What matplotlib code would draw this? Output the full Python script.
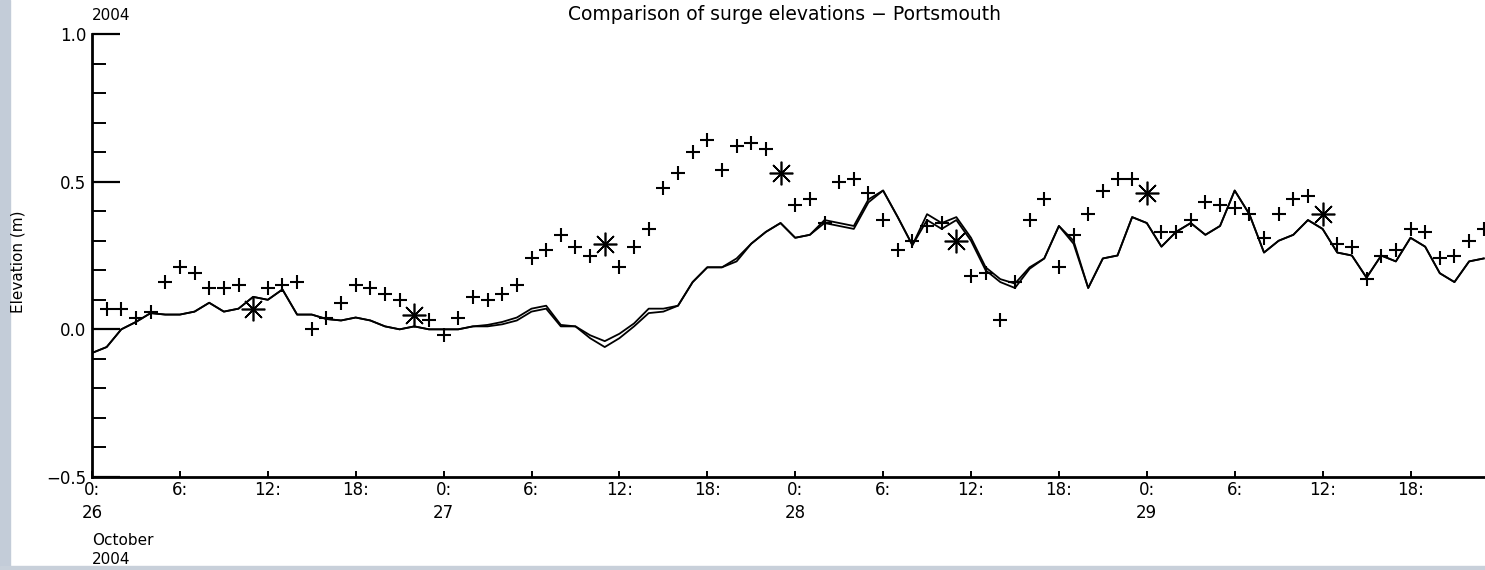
import matplotlib
matplotlib.use("Agg")
import matplotlib.pyplot as plt
import matplotlib.transforms as mtransforms
from matplotlib.patches import Rectangle
import numpy as np

# hourly surge elevation (m), hour 0 = 00:00 26 October 2004
obs = [np.nan, 0.07, 0.07, 0.04, 0.06, 0.16, 0.21, 0.19, 0.14, 0.14,
       0.15, 0.07, 0.14, 0.15, 0.16, 0.00, 0.04, 0.09, 0.15, 0.14,
       0.12, 0.10, 0.05, 0.03, -0.02, 0.04, 0.11, 0.10, 0.12, 0.15,
       0.24, 0.27, 0.32, 0.28, 0.25, 0.29, 0.21, 0.28, 0.34, 0.48,
       0.53, 0.60, 0.64, 0.54, 0.62, 0.63, 0.61, 0.53, 0.42, 0.44,
       0.36, 0.50, 0.51, 0.46, 0.37, 0.27, 0.30, 0.35, 0.36, 0.30,
       0.18, 0.19, 0.03, 0.16, 0.37, 0.44, 0.21, 0.32, 0.39, 0.47,
       0.51, 0.51, 0.46, 0.33, 0.33, 0.37, 0.43, 0.42, 0.41, 0.39,
       0.31, 0.39, 0.44, 0.45, 0.39, 0.29, 0.28, 0.17, 0.25, 0.27,
       0.34, 0.33, 0.24, 0.25, 0.30, 0.34]

# hours flagged as high water (drawn with asterisks)
hw_hours = [11, 22, 35, 47, 59, 72, 84]

model_a = [-0.08, -0.06, 0.00, 0.025, 0.055, 0.05, 0.05, 0.06, 0.09, 0.06,
           0.07, 0.11, 0.10, 0.135, 0.05, 0.05, 0.035, 0.03, 0.04, 0.03,
           0.01, 0.00, 0.01, 0.00, 0.00, 0.00, 0.01, 0.015, 0.025, 0.04,
           0.07, 0.08, 0.015, 0.01, -0.02, -0.04, -0.015, 0.02, 0.07, 0.07,
           0.08, 0.16, 0.21, 0.21, 0.24, 0.29, 0.33, 0.36, 0.31, 0.32,
           0.37, 0.36, 0.35, 0.44, 0.47, 0.38, 0.285, 0.39, 0.36, 0.38,
           0.31, 0.21, 0.17, 0.155, 0.21, 0.24, 0.35, 0.30, 0.14, 0.24,
           0.25, 0.38, 0.36, 0.28, 0.33, 0.36, 0.32, 0.35, 0.47, 0.39,
           0.26, 0.30, 0.32, 0.37, 0.34, 0.26, 0.25, 0.175, 0.25, 0.23,
           0.31, 0.28, 0.19, 0.16, 0.23, 0.24]

model_b = [-0.08, -0.06, 0.00, 0.025, 0.055, 0.05, 0.05, 0.06, 0.09, 0.06,
           0.07, 0.11, 0.10, 0.135, 0.05, 0.05, 0.035, 0.03, 0.04, 0.03,
           0.01, 0.00, 0.01, 0.00, 0.00, 0.00, 0.01, 0.01, 0.017, 0.03,
           0.06, 0.07, 0.01, 0.01, -0.03, -0.06, -0.03, 0.01, 0.055, 0.06,
           0.08, 0.16, 0.21, 0.21, 0.23, 0.29, 0.33, 0.36, 0.31, 0.32,
           0.36, 0.35, 0.34, 0.43, 0.47, 0.38, 0.285, 0.37, 0.34, 0.37,
           0.30, 0.20, 0.16, 0.14, 0.205, 0.24, 0.35, 0.29, 0.14, 0.24,
           0.25, 0.38, 0.36, 0.28, 0.33, 0.36, 0.32, 0.35, 0.47, 0.39,
           0.26, 0.30, 0.32, 0.37, 0.34, 0.26, 0.25, 0.175, 0.25, 0.23,
           0.31, 0.28, 0.19, 0.16, 0.23, 0.24]

tick_hours = list(range(0, 96, 6))
day_labels = ["26", "27", "28", "29"]

hours = np.arange(len(model_a))
obs = np.array(obs)

fig = plt.figure(figsize=(14.85, 5.70), dpi=100)
# screenshot edge strips
fig.patches.append(Rectangle((0, 0), 10 / 1485, 1, transform=fig.transFigure,
                             color="#c3ccd8", zorder=-1))
fig.patches.append(Rectangle((0, 0), 1, 4 / 570, transform=fig.transFigure,
                             color="#c8d0da", zorder=-1))

ax = fig.add_axes([92 / 1485, 1 - 477 / 570, 1 - 92 / 1485, (477 - 34) / 570])
ax.patch.set_alpha(0)

ax.plot(hours, model_a, color="black", lw=1.3)
ax.plot(hours, model_b, color="black", lw=1.3)

plus_mask = np.ones(len(obs), dtype=bool)
plus_mask[hw_hours] = False
ax.plot(hours[plus_mask], obs[plus_mask], "+", color="black", ms=10, mew=1.5,
        linestyle="none")
ax.plot(hours[hw_hours], obs[hw_hours], marker=(8, 2, 0), color="black",
        ms=17, mew=1.2, linestyle="none")

ax.set_xlim(0, (1485 - 92) / 14.65)
ax.set_ylim(-0.5, 1.0)

for side in ["top", "right"]:
    ax.spines[side].set_visible(False)
ax.spines["left"].set_linewidth(2)
ax.spines["bottom"].set_linewidth(2)

ax.set_yticks([-0.5, 0.0, 0.5, 1.0])
ax.set_yticklabels(["\u22120.5", "0.0", "0.5", "1.0"])
ax.set_yticks(np.arange(-0.5, 1.01, 0.1), minor=True)
ax.tick_params(axis="y", which="major", direction="in", length=20, width=1.6,
               labelsize=12, pad=4)
ax.tick_params(axis="y", which="minor", direction="in", length=10, width=1.4)

xlabels = []
for h in tick_hours:
    if h % 24 == 0:
        xlabels.append("%d:\n%s" % (h % 24, day_labels[h // 24]))
    else:
        xlabels.append("%d:" % (h % 24))
ax.set_xticks(tick_hours)
ax.set_xticklabels(xlabels, linespacing=1.35, va="top")
ax.tick_params(axis="x", which="major", direction="in", length=4, width=1.4,
               labelsize=12, pad=3)

trans = mtransforms.blended_transform_factory(ax.transData, fig.transFigure)
ax.text(0, 1 - 550 / 570, "October\n2004", transform=trans, fontsize=11,
        ha="left", va="center", linespacing=1.3)

fig.text(92 / 1485, 1 - 15 / 570, "2004", fontsize=11, ha="left", va="center")
fig.text(784 / 1485, 1 - 15 / 570, "Comparison of surge elevations \u2212 Portsmouth",
         fontsize=13.5, ha="center", va="center")
fig.text(18 / 1485, 1 - 262 / 570, "Elevation (m)", rotation=90, fontsize=11,
         ha="center", va="center")

fig.savefig("out.png", dpi=100)
